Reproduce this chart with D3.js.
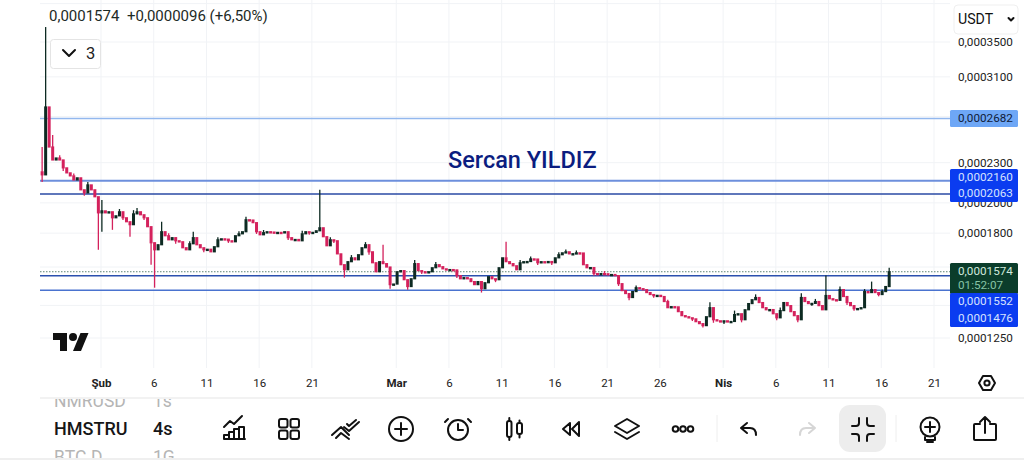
<!DOCTYPE html>
<html>
<head>
<meta charset="utf-8">
<script src="https://cdn.jsdelivr.net/npm/d3@7"></script>
<style>
  html, body { margin: 0; padding: 0; background: #fff; }
  svg { display: block; font-family: Roboto, sans-serif; }
  .icon { fill: none; stroke: #111; stroke-width: 2; stroke-linecap: round; stroke-linejoin: round; }
</style>
</head>
<body>
<svg id="chart" width="1024" height="460"></svg>
<script>
// prices are in units of 0.0000001
const closes = [
  2205, 2792, 2429, 2322, 2338, 2322, 2259, 2220, 2197, 2166, 2182, 2093, 2071, 2129, 2093, 2043,
  1932, 1945, 1932, 1939, 1899, 1912, 1939, 1899, 1873, 1854, 1925, 1939, 1919, 1899, 1841, 1741,
  1699, 1729, 1809, 1784, 1759, 1772, 1753, 1747, 1711, 1699, 1735, 1772, 1729, 1711, 1699, 1702,
  1687, 1717, 1759, 1765, 1763, 1753, 1747, 1784, 1796, 1809, 1886, 1884, 1867, 1809, 1790, 1803,
  1809, 1807, 1803, 1805, 1802, 1809, 1772, 1759, 1761, 1753, 1796, 1809, 1803, 1805, 1815, 1834,
  1778, 1723, 1759, 1753, 1675, 1613, 1585, 1630, 1652, 1641, 1670, 1711, 1729, 1687, 1624, 1574,
  1630, 1619, 1600, 1505, 1508, 1574, 1580, 1531, 1495, 1536, 1619, 1580, 1574, 1569, 1574, 1596,
  1613, 1602, 1590, 1585, 1586, 1584, 1553, 1536, 1542, 1536, 1521, 1505, 1521, 1484, 1515, 1547,
  1536, 1531, 1596, 1652, 1630, 1619, 1607, 1585, 1624, 1630, 1631, 1646, 1645, 1624, 1630, 1629,
  1631, 1624, 1652, 1670, 1681, 1687, 1675, 1676, 1681, 1680, 1613, 1596, 1597, 1564, 1558, 1564,
  1563, 1558, 1559, 1553, 1510, 1474, 1459, 1439, 1469, 1489, 1484, 1479, 1464, 1454, 1449, 1450,
  1444, 1419, 1389, 1394, 1393, 1370, 1351, 1346, 1341, 1336, 1323, 1314, 1305, 1346, 1389, 1332,
  1327, 1323, 1327, 1323, 1324, 1356, 1360, 1332, 1379, 1409, 1428, 1439, 1414, 1389, 1379, 1380,
  1360, 1341, 1375, 1414, 1399, 1370, 1351, 1332, 1439, 1419, 1409, 1410, 1419, 1399, 1379, 1449,
  1433, 1428, 1425, 1479, 1444, 1414, 1399, 1384, 1385, 1389, 1469, 1464, 1479, 1464, 1454, 1469,
  1495, 1574
];
const firstOpen = 2228;
// only the candles whose wicks stick out: [candle index, price]
const highWicks = [[0, 2429], [1, 3687], [3, 2533], [5, 2360], [7, 2260], [9, 2215], [13, 2150], [17, 2021], [22, 1958],
  [26, 1950], [27, 1965], [32, 1717], [34, 1873], [36, 1800], [42, 1750], [43, 1809], [50, 1775], [56, 1812], [58, 1905],
  [63, 1820], [74, 1815], [79, 2093], [82, 1775], [88, 1668], [92, 1745], [97, 1729], [106, 1640], [112, 1628], [132, 1747],
  [136, 1640], [139, 1660], [147, 1685], [149, 1700], [152, 1695], [160, 1578], [169, 1500], [178, 1428], [190, 1415],
  [197, 1375], [203, 1455], [210, 1390], [216, 1460], [220, 1432], [223, 1553], [227, 1495], [234, 1482], [236, 1521],
  [239, 1480], [241, 1596]];
const lowWicks = [[0, 2150], [6, 2235], [12, 2050], [16, 1699], [17, 1809], [20, 1821], [23, 1885], [25, 1778], [29, 1885],
  [31, 1613], [32, 1489], [38, 1735], [46, 1685], [53, 1740], [61, 1795], [70, 1758], [76, 1790], [83, 1740], [86, 1542],
  [93, 1670], [99, 1484], [104, 1479], [108, 1562], [118, 1540], [125, 1464], [129, 1518], [141, 1612], [145, 1612],
  [157, 1552], [164, 1498], [167, 1425], [174, 1438], [185, 1326], [188, 1296], [191, 1318], [194, 1312], [199, 1320],
  [209, 1330], [215, 1320], [219, 1398], [229, 1402], [231, 1374], [238, 1445]];

const monthLabels = ["Şub", "Mar", "Nis"];
const tickDates = ["2025-02-01", "2025-02-06", "2025-02-11", "2025-02-16", "2025-02-21", "2025-03-01", "2025-03-06",
  "2025-03-11", "2025-03-16", "2025-03-21", "2025-03-26", "2025-04-01", "2025-04-06", "2025-04-11", "2025-04-16", "2025-04-21"];
const gridPrices = [4000, 3500, 3100, 2700, 2300, 2000, 1800, 1600, 1400, 1250];
const priceLabels = [3500, 3100, 2300, 2000, 1800, 1600, 1250];

const priceLines = [
  { price: 2682, color: "#93b8ee", width: 1.5 },
  { price: 2160, color: "#6d8fdc", width: 2 },
  { price: 2063, color: "#2a4aa5", width: 1.5 },
  { price: 1552, color: "#2b50ae", width: 1.5 },
  { price: 1476, color: "#4a73cf", width: 1.5 }
];
const lastPrice = 1574;

const fmtPrice = d => "0," + String(d).padStart(7, "0");

const svg = d3.select("#chart");

const x = d3.scaleUtc()
  .domain([new Date("2025-02-01T00:00Z"), new Date("2025-04-21T00:00Z")])
  .range([101, 934]);
const y = d3.scaleLog().domain([1250, 3500]).range([338, 42]);

const startTime = new Date("2025-01-26T10:00Z").getTime();
const candles = closes.map((c, i) => ({
  i,
  date: new Date(startTime + i * 8 * 3600 * 1000),
  open: i === 0 ? firstOpen : closes[i - 1],
  close: c
}));

// grid
const xAxis = d3.axisBottom(x)
  .tickValues(tickDates.map(d => new Date(d + "T00:00Z")))
  .tickSize(0)
  .tickFormat(d => {
    if (d.getUTCDate() === 1) return monthLabels[d.getUTCMonth() - 1];
    return d.getUTCDate();
  });

svg.append("g").selectAll("line")
  .data(xAxis.tickValues())
  .join("line")
  .attr("x1", d => x(d)).attr("x2", d => x(d))
  .attr("y1", 0).attr("y2", 368)
  .attr("stroke", "#f1f3f6");

svg.append("g").selectAll("line")
  .data(gridPrices)
  .join("line")
  .attr("x1", 40).attr("x2", 950)
  .attr("y1", d => y(d)).attr("y2", d => y(d))
  .attr("stroke", "#f1f3f6");

// price lines
svg.append("line")
  .attr("x1", 40).attr("x2", 950)
  .attr("y1", y(lastPrice)).attr("y2", y(lastPrice))
  .attr("stroke", "#5f8474")
  .attr("stroke-dasharray", "1.5 1.5");

svg.append("g").selectAll("line")
  .data(priceLines)
  .join("line")
  .attr("x1", 40).attr("x2", 950)
  .attr("y1", d => y(d.price)).attr("y2", d => y(d.price))
  .attr("stroke", d => d.color)
  .attr("stroke-width", d => d.width);

// candles
const candleColor = d => d.close >= d.open ? "#0d2a22" : "#d4215c";
const g = svg.append("g");

g.selectAll("line.high")
  .data(highWicks)
  .join("line")
  .attr("class", "high")
  .attr("x1", d => x(candles[d[0]].date)).attr("x2", d => x(candles[d[0]].date))
  .attr("y1", d => y(d[1]))
  .attr("y2", d => y(Math.max(candles[d[0]].open, candles[d[0]].close)))
  .attr("stroke", d => candleColor(candles[d[0]]))
  .attr("stroke-width", 1.3);

g.selectAll("line.low")
  .data(lowWicks)
  .join("line")
  .attr("class", "low")
  .attr("x1", d => x(candles[d[0]].date)).attr("x2", d => x(candles[d[0]].date))
  .attr("y1", d => y(d[1]))
  .attr("y2", d => y(Math.min(candles[d[0]].open, candles[d[0]].close)))
  .attr("stroke", d => candleColor(candles[d[0]]))
  .attr("stroke-width", 1.3);

g.selectAll("rect")
  .data(candles)
  .join("rect")
  .attr("x", d => x(d.date) - 1.5)
  .attr("width", 3)
  .attr("y", d => y(Math.max(d.open, d.close)) - 0.6)
  .attr("height", d => Math.max(2.4, Math.abs(y(d.open) - y(d.close)) + 1.2))
  .attr("fill", candleColor);

// axes
const bottom = svg.append("g").attr("transform", "translate(0,376)").call(xAxis);
bottom.select(".domain").remove();
bottom.selectAll("text")
  .attr("font-family", "Roboto, sans-serif")
  .attr("font-size", 11.5)
  .attr("font-weight", d => d.getUTCDate() === 1 ? 700 : 400)
  .attr("fill", "#222");

const right = svg.append("g")
  .attr("transform", "translate(958,0)")
  .call(d3.axisRight(y).tickValues(priceLabels).tickSize(0).tickPadding(0).tickFormat(fmtPrice));
right.select(".domain").remove();
right.selectAll("text")
  .attr("font-family", "Roboto, sans-serif")
  .attr("font-size", 11.7)
  .attr("fill", "#222");

// price tags
function tag(y0, y1, fill) {
  svg.append("rect").attr("x", 950).attr("y", y0).attr("width", 68).attr("height", y1 - y0).attr("rx", 1.5).attr("fill", fill);
}
function tagText(py, text, fill) {
  svg.append("text").attr("x", 958).attr("y", py).attr("font-size", 11.7).attr("fill", fill).text(text);
}
tag(110, 127, "#6ea7f6");
tagText(122, fmtPrice(2682), "#10203a");
tag(169, 202, "#0b3cf0");
tagText(181, fmtPrice(2160), "#d6e2ff");
tagText(197, fmtPrice(2063), "#d6e2ff");
tag(263, 294, "#0b3d2b");
tagText(275, fmtPrice(1574), "#cfe9dc");
tagText(289, "01:52:07", "#86c3a6");
tag(293, 327, "#0b3cf0");
tagText(305, fmtPrice(1552), "#d6e2ff");
tagText(322, fmtPrice(1476), "#d6e2ff");

// header
svg.append("text").attr("x", 49).attr("y", 21).attr("font-size", 15).attr("fill", "#1d2a26").text(fmtPrice(lastPrice));
svg.append("text").attr("x", 127).attr("y", 21).attr("font-size", 15).attr("fill", "#1d2a26").text("+0,0000096 (+6,50%)");

svg.append("text").attr("x", 448).attr("y", 168).attr("font-size", 23.5).attr("font-weight", 500).attr("fill", "#0b1d80").text("Sercan YILDIZ");

svg.append("rect").attr("x", 50.5).attr("y", 39.5).attr("width", 50).attr("height", 29).attr("rx", 3)
  .attr("fill", "#fff").attr("stroke", "#e4e4e4");
svg.append("path").attr("class", "icon").attr("d", "M63 50l6 6l6-6");
svg.append("text").attr("x", 86).attr("y", 59).attr("font-size", 16.5).attr("fill", "#222").text("3");

// the currency box sits on a white margin that cuts the top label
svg.append("rect").attr("x", 950).attr("y", 0).attr("width", 74).attr("height", 38).attr("fill", "#fff");
svg.append("rect").attr("x", 954).attr("y", 5).attr("width", 64).attr("height", 29).attr("rx", 4)
  .attr("fill", "#fff").attr("stroke", "#efefef");
svg.append("text").attr("x", 958).attr("y", 24).attr("font-size", 14.2).attr("fill", "#111").text("USDT");
svg.append("path").attr("class", "icon").attr("d", "M1008.5 18l2.5 2.5l2.5-2.5");

// logo
svg.append("g").attr("transform", "translate(53,329)")
  .html('<path d="M14 22H7V11H0V4h14v18zM28 22h-8l7.5-18h8L28 22z" fill="#111"/><circle cx="20" cy="8" r="4" fill="#111"/>');

// settings button
svg.append("g").attr("class", "icon").attr("transform", "translate(987,383)")
  .html('<path d="M-8 0l4-7h8l4 7l-4 7h-8z"/><circle r="2.6"/>');

// bottom bar
svg.append("line").attr("x1", 40).attr("x2", 1024).attr("y1", 398).attr("y2", 398).attr("stroke", "#eeeeee").attr("stroke-width", 1.5);
svg.append("rect").attr("x", 0).attr("y", 399).attr("width", 1024).attr("height", 61).attr("fill", "#fff");

const clip = svg.append("clipPath").attr("id", "list");
clip.append("rect").attr("x", 0).attr("y", 399).attr("width", 1024).attr("height", 59);
const list = svg.append("g").attr("clip-path", "url(#list)");
const watchRows = [
  { name: "NMRUSD", tf: "1s", py: 407, size: 17.5, weight: 400, color: "#b5b5b5" },
  { name: "HMSTRU", tf: "4s", py: 435, size: 18, weight: 500, color: "#161616" },
  { name: "BTC.D", tf: "1G", py: 463, size: 17.5, weight: 400, color: "#b5b5b5" }
];
watchRows.forEach(r => {
  list.append("text").attr("x", 54).attr("y", r.py).attr("font-size", r.size).attr("font-weight", r.weight).attr("fill", r.color).text(r.name);
  list.append("text").attr("x", 153).attr("y", r.py).attr("font-size", r.size).attr("font-weight", r.weight).attr("fill", r.color).text(r.tf);
});
svg.append("line").attr("x1", 0).attr("x2", 1024).attr("y1", 459).attr("y2", 459).attr("stroke", "#efefef").attr("stroke-width", 2);

svg.append("rect").attr("x", 839).attr("y", 405).attr("width", 47).attr("height", 47).attr("rx", 11).attr("fill", "#ededed");
svg.selectAll("line.sep")
  .data([717, 896])
  .join("line")
  .attr("class", "sep")
  .attr("x1", d => d).attr("x2", d => d)
  .attr("y1", 415).attr("y2", 442)
  .attr("stroke", "#eeeeee");

const toolIcons = [
  { cx: 234, html: '<path d="M-10 10h21M-10 10v-4h5v4M-5 10v-7h5v7M0 10v-10h5v10M5 10v-12h5v12M-10 -2l6-6l4 3l8-8"/>' },
  { cx: 289, html: '<rect x="-10" y="-10" width="8.5" height="8.5" rx="2"/><rect x="1.5" y="-10" width="8.5" height="8.5" rx="2"/><rect x="-10" y="1.5" width="8.5" height="8.5" rx="2"/><rect x="1.5" y="1.5" width="8.5" height="8.5" rx="2"/>' },
  { cx: 345, html: '<path d="M-13 6l9-8l8 8M-9 9l5-5l8 6M-1 -2l5 4l10-9M2 -5l2 2l7-6"/>' },
  { cx: 401, html: '<circle r="12"/><path d="M-6 0h12M0 -6v12"/>' },
  { cx: 458, html: '<circle cy="1" r="10"/><path d="M0 -5v6h5M-10 -10l-3 3M10 -10l3 3"/>' },
  { cx: 515, html: '<rect x="-8" y="-8" width="4.5" height="16" rx="2"/><path d="M-5.7 -11v3M-5.7 8v3M4.5 -6v-2.5M4.5 6v2.5"/><rect x="2" y="-6" width="5" height="11" rx="2"/>' },
  { cx: 571, html: '<path d="M-1 -6l-7 6l7 6zM8 -7l-7 7l7 7z" />' },
  { cx: 627, html: '<path d="M0 -10l12 7l-12 7l-12-7zM-12 3l12 7l12-7"/>' },
  { cx: 683, html: '<circle cx="-7.5" r="2.8"/><circle r="2.8"/><circle cx="7.5" r="2.8"/>' },
  { cx: 749, html: '<path d="M-2 -6l-6 5l6 5M-8 -1h9c4 0 6 3 6 7"/>' },
  { cx: 807, stroke: "#d6d6d6", html: '<path d="M2 -6l6 5l-6 5M8 -1h-9c-4 0-6 3-6 7"/>' },
  { cx: 863, html: '<path d="M-11 -3h4q3 0 3-3v-5M11 -3h-4q-3 0-3-3v-5M-11 5h4q3 0 3 3v4M11 5h-4q-3 0-3 3v4"/>' },
  { cx: 930, html: '<circle cy="-2" r="9.5"/><path d="M-5 -2h10M0 -7v10M-5 8v3h10v-3M-3 13h6"/>' },
  { cx: 985, html: '<path d="M-5 -5h-5q-1 0-1 1v14q0 1 1 1h20q1 0 1-1v-14q0-1-1-1h-5M0 4v-15M-5 -7l5-5l5 5"/>' }
];
svg.append("g").selectAll("g")
  .data(toolIcons)
  .join("g")
  .attr("class", "icon")
  .attr("transform", d => `translate(${d.cx},429)`)
  .style("stroke", d => d.stroke || null)
  .html(d => d.html);
</script>
</body>
</html>
